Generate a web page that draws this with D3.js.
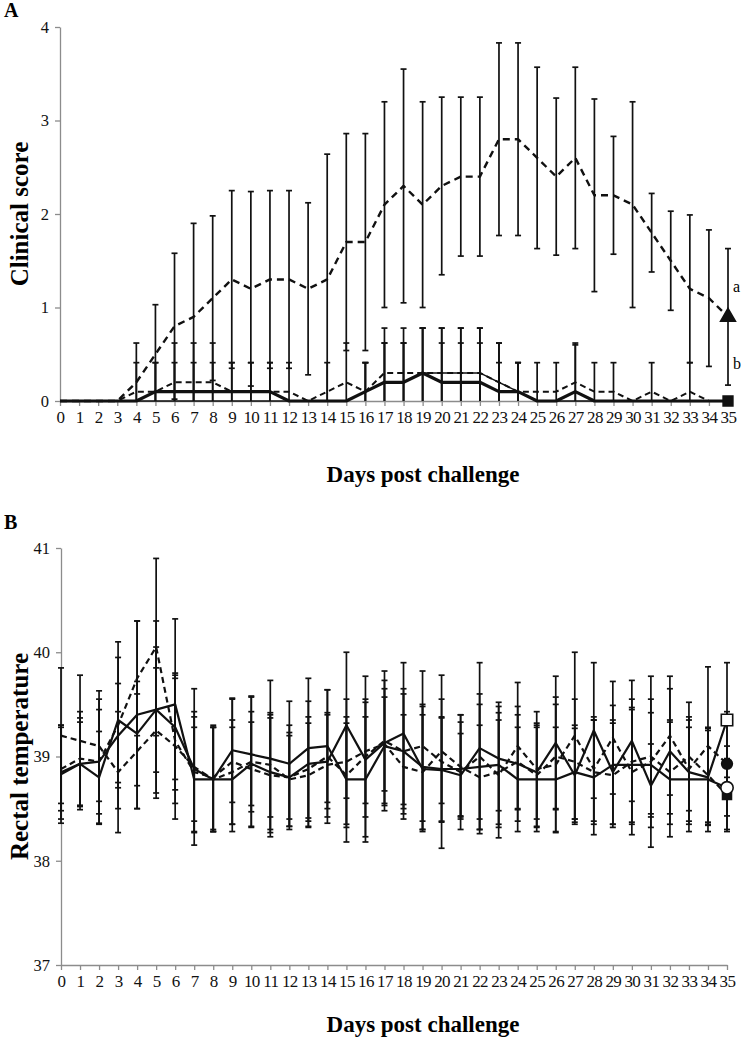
<!DOCTYPE html>
<html><head><meta charset="utf-8">
<script src="https://cdn.jsdelivr.net/npm/d3@7"></script>
<style>body{margin:0;background:#fff}svg{display:block}</style>
</head><body>
<script>
const days = d3.range(0,36);
const dayLabels = days.map(String);
// Panel A: clinical score
const a1Mean=[0,0,0,0,0.2,0.5,0.8,0.9,1.1,1.3,1.2,1.3,1.3,1.2,1.3,1.7,1.7,2.1,2.3,2.1,2.3,2.4,2.4,2.8,2.8,2.6,2.4,2.6,2.2,2.2,2.1,1.8,1.5,1.2,1.1,0.9];
const a1Sd=[0,0,0,0,0.42,0.53,0.78,1.0,0.88,0.95,1.04,0.95,0.95,0.92,1.34,1.16,1.16,1.1,1.25,1.1,0.95,0.85,0.85,1.03,1.03,0.97,0.84,0.97,1.03,0.63,1.1,0.42,0.53,0.79,0.73,0.73];
const a2Mean=[0,0,0,0,0.1,0.1,0.2,0.2,0.2,0.1,0.1,0.1,0.1,0,0.1,0.2,0.1,0.3,0.3,0.3,0.3,0.3,0.3,0.2,0.1,0.1,0.1,0.2,0.1,0.1,0,0.1,0,0.1,0,0];
const a2Sd=[0,0,0,0,0.31,0.31,0.42,0.42,0.42,0.31,0.31,0.31,0.31,0,0.31,0.42,0.31,0.48,0.48,0.48,0.48,0.48,0.48,0.42,0.31,0.31,0.31,0.42,0.31,0.31,0,0.31,0,0.31,0,0];
const a3Mean=[0,0,0,0,0,0,0,0,0,0,0,0,0,0,0,0,0.1,0.2,0.2,0.3,0.3,0.3,0.3,0.2,0.1,0,0,0,0,0,0,0,0,0,0,0];
const a3Sd=[0,0,0,0,0,0,0,0,0,0,0,0,0,0,0,0,0.31,0.42,0.42,0.48,0.48,0.48,0.48,0.42,0.31,0,0,0,0,0,0,0,0,0,0,0];
const a4Mean=[0,0,0,0,0,0.1,0.1,0.1,0.1,0.1,0.1,0.1,0,0,0,0,0.1,0.2,0.2,0.3,0.2,0.2,0.2,0.1,0.1,0,0,0.1,0,0,0,0,0,0,0,0];
const a4Sd=[0,0,0,0,0,0.31,0.31,0.31,0.31,0.31,0.31,0.31,0,0,0,0,0.31,0.42,0.42,0.48,0.42,0.42,0.42,0.31,0.31,0,0,0.5,0,0,0,0,0,0,0,0];
const aTicks=[0,1,2,3,4];
// Panel B: rectal temperature
const s1Mean=[38.85,38.93,38.8,39.35,39.22,39.45,39.28,38.88,38.78,38.78,38.93,38.85,38.8,38.93,38.95,39.3,38.97,39.13,39.22,38.88,38.87,38.82,39.08,38.98,38.93,38.85,39.13,38.82,39.25,38.85,39.15,38.72,39.05,38.85,38.8,39.35];
const s1Sd=[0.45,0.4,0.44,0.6,0.5,0.6,0.5,0.5,0.5,0.5,0.4,0.55,0.4,0.6,0.45,0.7,0.55,0.6,0.68,0.6,0.5,0.4,0.82,0.5,0.55,0.45,0.64,0.45,0.65,0.5,0.58,0.4,0.6,0.5,0.45,0.55];
const s2Mean=[38.83,38.93,38.95,39.2,39.4,39.45,39.5,38.78,38.78,39.06,39.02,38.98,38.93,39.08,39.1,38.78,38.78,39.1,39.05,38.9,38.88,38.88,38.9,38.92,38.78,38.78,38.78,38.85,38.8,38.92,38.92,38.92,38.78,38.78,38.78,38.7];
const s2Sd=[0.47,0.44,0.6,0.5,0.9,0.85,0.82,0.5,0.5,0.5,0.55,0.75,0.6,0.67,0.54,0.6,0.6,0.55,0.55,0.6,0.5,0.45,0.6,0.6,0.5,0.5,0.5,0.45,0.55,0.57,0.55,0.5,0.55,0.5,0.5,0.4];
const d1Mean=[38.88,38.98,38.95,39.3,39.75,40.05,39.15,38.85,38.8,38.95,38.88,38.82,38.8,38.88,39.0,38.82,39.0,39.15,39.05,39.1,38.95,38.85,39.0,38.82,39.1,38.88,38.92,39.2,38.88,39.18,38.85,38.95,39.2,38.88,39.1,38.93];
const d1Sd=[0.4,0.45,0.5,0.8,0.55,0.85,0.6,0.58,0.5,0.6,0.55,0.55,0.5,0.5,0.64,0.5,0.77,0.67,0.6,0.72,0.83,0.55,0.6,0.6,0.61,0.55,0.65,0.8,0.5,0.54,0.6,0.82,0.57,0.5,0.76,0.5];
const d2Mean=[39.2,39.15,39.1,38.85,39.05,39.25,39.1,38.9,38.78,38.85,38.95,38.92,38.78,38.82,38.92,38.95,39.05,39.12,38.9,38.85,39.05,38.9,38.8,38.85,38.95,38.82,39.0,38.95,38.85,38.82,38.95,39.0,38.85,39.0,38.82,38.63];
const d2Sd=[0.65,0.63,0.53,0.58,0.55,0.6,0.7,0.75,0.5,0.5,0.63,0.5,0.45,0.5,0.5,0.6,0.5,0.45,0.5,0.55,0.5,0.5,0.5,0.5,0.45,0.5,0.5,0.6,0.5,0.5,0.6,0.55,0.5,0.52,0.45,0.35];
const bTicks=[37,38,39,40,41];

const W=742,H=1040;
const svg=d3.select("body").append("svg").attr("width",W).attr("height",H);
const serif="'Liberation Serif','Times New Roman',serif";
const grey="#8c8c8c";

function panel(opt){
  const g=svg.append("g");
  const x=d3.scaleLinear().domain([0,35]).range(opt.xr);
  const y=d3.scaleLinear().domain(opt.yd).range(opt.yr);
  const ya=g.append("g").attr("transform",`translate(${opt.xr[0]},0)`)
    .call(d3.axisLeft(y).tickValues(opt.ticks).tickFormat(d3.format("d")).tickSize(5).tickSizeOuter(0).tickPadding(6));
  ya.select(".domain").attr("stroke",grey).attr("stroke-width",1.3);
  ya.selectAll(".tick line").attr("stroke",grey).attr("stroke-width",1.3);
  ya.selectAll("text").attr("font-family",serif).attr("font-size",16.5).attr("fill","#111");
  const xa=g.append("g").attr("transform",`translate(0,${opt.yr[0]})`)
    .call(d3.axisBottom(x).tickValues(days).tickFormat((d,i)=>dayLabels[i]).tickSize(5).tickSizeOuter(0).tickPadding(5));
  xa.select(".domain").attr("stroke",grey).attr("stroke-width",1.3);
  xa.selectAll(".tick line").attr("stroke",grey).attr("stroke-width",1.3);
  xa.selectAll("text").attr("font-family",serif).attr("font-size",17).attr("fill","#111").attr("letter-spacing",-0.6);
  g.append("text").attr("x",4).attr("y",opt.titleY).text(opt.title)
    .attr("font-family",serif).attr("font-weight","bold").attr("font-size",20);
  g.append("text").attr("transform",`translate(${opt.ylabX},${(opt.yr[0]+opt.yr[1])/2}) rotate(-90)`)
    .attr("text-anchor","middle").text(opt.ylab)
    .attr("font-family",serif).attr("font-weight","bold").attr("font-size",25);
  g.append("text").attr("x",(opt.xr[0]+opt.xr[1])/2+29).attr("y",opt.xlabY).attr("text-anchor","middle")
    .text("Days post challenge").attr("font-family",serif).attr("font-weight","bold").attr("font-size",23);
  const lo=opt.yd[0];
  opt.series.forEach(s=>{
    const eb=g.append("g").attr("stroke","#111").attr("stroke-width",1.7);
    days.forEach((d,i)=>{
      if(!s.sd[i]) return;
      const top=y(s.mean[i]+s.sd[i]);
      const bot=y(Math.max(lo,s.mean[i]-s.sd[i]));
      eb.append("line").attr("x1",x(d)).attr("x2",x(d)).attr("y1",top).attr("y2",bot);
      eb.append("line").attr("x1",x(d)-3).attr("x2",x(d)+3).attr("y1",top).attr("y2",top);
      if(s.mean[i]-s.sd[i]>lo) eb.append("line").attr("x1",x(d)-3).attr("x2",x(d)+3).attr("y1",bot).attr("y2",bot);
    });
  });
  opt.series.forEach(s=>{
    g.append("path").datum(s.mean)
      .attr("d",d3.line().x((v,i)=>x(days[i])).y(v=>y(v)))
      .attr("fill","none").attr("stroke","#111").attr("stroke-width",s.w)
      .attr("stroke-dasharray",s.dash||null).attr("stroke-linejoin","round");
  });
  opt.series.forEach(s=>{
    if(!s.marker) return;
    const cx=x(35), cy=y(s.mean[35]);
    const sym=d3.symbol().type(s.marker).size(s.size);
    g.append("path").attr("d",sym()).attr("transform",`translate(${cx},${cy})`)
      .attr("fill",s.fill).attr("stroke","#111").attr("stroke-width",1.6);
  });
  return {x,y,g};
}

const A=panel({xr:[60,728],yr:[401,27],yd:[0,4],ticks:aTicks,title:"A",titleY:17,
  ylab:"Clinical score",ylabX:28,xlabY:482,
  series:[
    {mean:a1Mean,sd:a1Sd,w:2.4,dash:"7,5",marker:d3.symbolTriangle,size:95,fill:"#111"},
    {mean:a2Mean,sd:a2Sd,w:2,dash:"6,4"},
    {mean:a3Mean,sd:a3Sd,w:1.5},
    {mean:a4Mean,sd:a4Sd,w:3.2,marker:d3.symbolSquare,size:95,fill:"#111"}
  ]});
A.g.append("text").attr("x",733).attr("y",292).text("a").attr("font-family",serif).attr("font-size",16);
A.g.append("text").attr("x",733).attr("y",369).text("b").attr("font-family",serif).attr("font-size",16);

panel({xr:[61,727],yr:[965,548],yd:[37,41],ticks:bTicks,title:"B",titleY:529,
  ylab:"Rectal temperature",ylabX:28,xlabY:1032,
  series:[
    {mean:d1Mean,sd:d1Sd,w:2.2,dash:"6,4",marker:d3.symbolCircle,size:90,fill:"#111"},
    {mean:d2Mean,sd:d2Sd,w:2.2,dash:"6,4",marker:d3.symbolSquare,size:80,fill:"#111"},
    {mean:s1Mean,sd:s1Sd,w:2.2,marker:d3.symbolSquare,size:130,fill:"#fff"},
    {mean:s2Mean,sd:s2Sd,w:2.2,marker:d3.symbolCircle,size:120,fill:"#fff"}
  ]});
</script>
</body></html>
